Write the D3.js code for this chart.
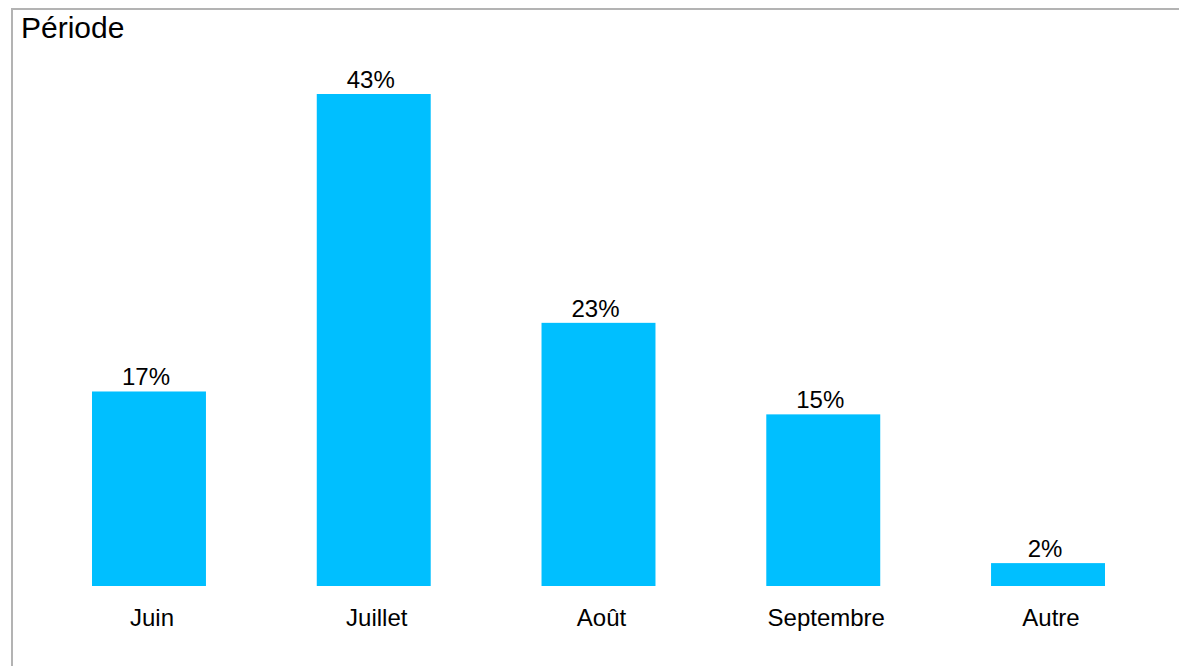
<!DOCTYPE html>
<html>
<head>
<meta charset="utf-8">
<script src="https://cdn.jsdelivr.net/npm/d3@7"></script>
<style>
  html, body { margin: 0; padding: 0; background: #fff; }
  svg { display: block; font-family: "Liberation Sans", Arial, sans-serif; }
</style>
</head>
<body>
<svg id="chart" width="1179" height="666"></svg>
<script>
const categories = ["Juin", "Juillet", "Août", "Septembre", "Autre"];
const values = [17, 43, 23, 15, 2];
const valueLabels = ["17%", "43%", "23%", "15%", "2%"];
const title = "Période";

const svg = d3.select("#chart");
const W = 1179, H = 666;

// frame: top and left rules only
svg.append("path")
  .attr("d", `M12,${H} L12,9 L${W},9`)
  .attr("fill", "none")
  .attr("stroke", "#b3b3b3")
  .attr("stroke-width", 2);

svg.append("text")
  .attr("x", 21)
  .attr("y", 38)
  .attr("font-size", 30)
  .attr("fill", "#000")
  .text(title);

const x = d3.scaleBand()
  .domain(categories)
  .range([36.6, 1160.4])
  .paddingInner(0.493)
  .paddingOuter(0.2465);

const y = d3.scaleLinear()
  .domain([0, 43])
  .range([586, 94]);

const data = categories.map((c, i) => ({ c, v: values[i], label: valueLabels[i] }));

svg.append("g").selectAll("rect")
  .data(data)
  .join("rect")
  .attr("x", d => x(d.c))
  .attr("y", d => y(d.v))
  .attr("width", x.bandwidth())
  .attr("height", d => y(0) - y(d.v))
  .attr("fill", "#00bfff");

svg.append("g").selectAll("text")
  .data(data)
  .join("text")
  .attr("x", d => x(d.c) + x.bandwidth() / 2 - 3)
  .attr("y", d => y(d.v) - 6)
  .attr("text-anchor", "middle")
  .attr("font-size", 24)
  .attr("fill", "#000")
  .text(d => d.label);

const xAxis = d3.axisBottom(x).tickSize(0).tickPadding(0);
const gx = svg.append("g")
  .attr("transform", `translate(0,${y(0)})`)
  .call(xAxis);
gx.select(".domain").remove();
gx.selectAll("text")
  .attr("font-size", 24)
  .attr("font-family", "Liberation Sans, Arial, sans-serif")
  .attr("fill", "#000")
  .attr("dy", null)
  .attr("x", 3)
  .attr("y", 40);
</script>
</body>
</html>
